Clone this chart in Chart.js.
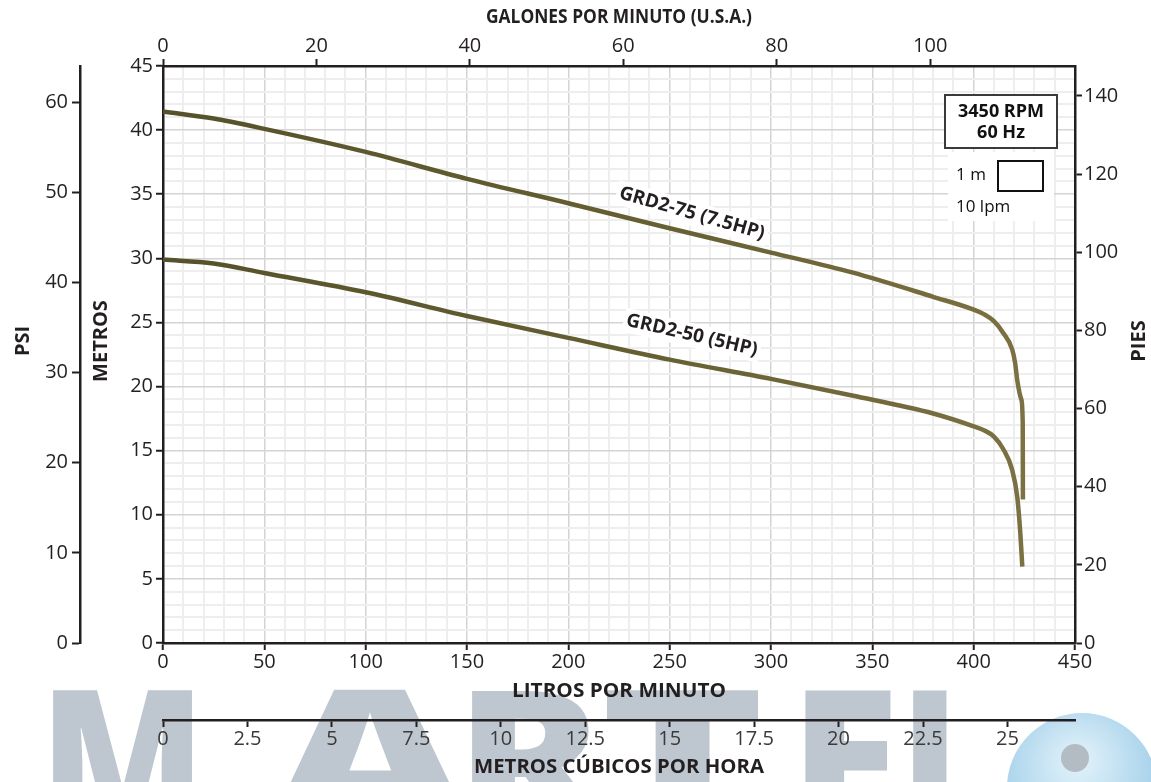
<!DOCTYPE html>
<html><head><meta charset="utf-8">
<script src="https://cdn.jsdelivr.net/npm/chart.js@4.4.1/dist/chart.umd.min.js"></script>
<style>html,body{margin:0;padding:0;background:#fff;overflow:hidden}#wrap{width:1151px;height:782px;position:relative}</style>
</head><body><div id="wrap"><canvas id="c" width="1151" height="782"></canvas></div>
<script>
// ---- data ----
const seriesNames = ['GRD2-75 (7.5HP)', 'GRD2-50 (5HP)'];
const lpm75  = [0, 25, 50, 100, 150, 200, 250, 300, 340, 380, 400, 405, 410, 414.5, 419, 420.5, 421.5, 423.5, 424.2, 424.3];
const head75 = [41.45, 40.9, 40.1, 38.3, 36.2, 34.3, 32.35, 30.45, 28.9, 27.0, 26.0, 25.65, 25.1, 24.2, 22.9, 21.8, 20.5, 19.0, 17.2, 11.2];
const lpm50  = [0, 25, 50, 100, 150, 200, 250, 300, 340, 380, 400, 405, 410, 414.5, 419, 421.5, 423, 424];
const head50 = [29.9, 29.6, 28.85, 27.35, 25.5, 23.8, 22.1, 20.6, 19.3, 17.9, 16.9, 16.6, 16.1, 15.15, 13.5, 11.4, 8.6, 5.95];
const infoLines = ['3450 RPM', '60 Hz'];
const gridLegend = ['1 m', '10 lpm'];
const titleTop = 'GALONES POR MINUTO (U.S.A.)';
const titleBottom = 'LITROS POR MINUTO';
const titleM3h = 'METROS CÚBICOS POR HORA';
const titlePsi = 'PSI';
const titleMetros = 'METROS';
const titlePies = 'PIES';
const watermarkText = 'MARTEL';
// axis ranges and steps
const lpmMax = 450, metrosMax = 45;
const LPM_PER_GPM = 3.78541, M_PER_FT = 0.3048, M_PER_PSI = 0.70307, LPM_PER_M3H = 1000/60;
const gpmStep = 20, piesStep = 20, psiStep = 10, m3hStep = 2.5, lpmMinor = 10, lpmMajor = 50, mMinor = 1, mMajor = 5;

const FONT = "'Open Sans', 'DejaVu Sans', sans-serif";
const DARK = '#231f20';
Chart.defaults.font.family = FONT;
Chart.defaults.font.size = 20;
Chart.defaults.color = DARK;
const TICKFONT = { family: FONT, size: 20 };

const isMul = (v, s) => Math.abs(v / s - Math.round(v / s)) < 1e-6;

function fitText(ctx, t, x, y, font, targetW, rot) {
  ctx.save();
  ctx.font = font;
  const w = ctx.measureText(t).width;
  ctx.translate(x, y);
  if (rot) ctx.rotate(rot);
  ctx.scale(targetW / w, 1);
  ctx.fillText(t, 0, 0);
  ctx.restore();
}

const deco = {
  id: 'deco',
  beforeDraw(chart) {
    const ctx = chart.ctx;
    ctx.save();
    ctx.fillStyle = '#ffffff';
    ctx.fillRect(0, 0, chart.width, chart.height);
    // watermark
    ctx.fillStyle = '#bec7cf';
    ctx.font = "800 190px " + FONT;
    ctx.textBaseline = 'alphabetic';
    ctx.textAlign = 'left';
    const letters = [[40, 165], [270, 200], [455, 150], [600, 165], [790, 110], [900, 100]];
    letters.forEach(([x, w], i) => {
      const ch = watermarkText[i];
      const mw = ctx.measureText(ch).width;
      ctx.save();
      ctx.translate(x, 826);
      ctx.scale(w / mw, 1);
      ctx.fillText(ch, 0, 0);
      ctx.restore();
    });
    // logo circle
    const g = ctx.createRadialGradient(1078, 760, 10, 1078, 770, 80);
    g.addColorStop(0, '#dceff9');
    g.addColorStop(1, '#a6d1ea');
    ctx.fillStyle = g;
    ctx.beginPath(); ctx.arc(1082, 788, 75, 0, Math.PI * 2); ctx.fill();
    ctx.fillStyle = '#b3bcc3';
    ctx.beginPath(); ctx.arc(1075, 758, 14, 0, Math.PI * 2); ctx.fill();
    ctx.restore();
  },
  afterDraw(chart) {
    const ctx = chart.ctx, ca = chart.chartArea;
    const xs = chart.scales.x, ys = chart.scales.y;
    const cx = (ca.left + ca.right) / 2;
    ctx.save();
    ctx.fillStyle = DARK;
    ctx.textAlign = 'center';
    ctx.textBaseline = 'middle';
    fitText(ctx, titleTop, cx, 17, "bold 20px " + FONT, 266);
    fitText(ctx, titleBottom, cx, 691, "bold 20px " + FONT, 214);
    fitText(ctx, titleM3h, cx, 767, "bold 20px " + FONT, 290);
    ctx.font = "bold 20px " + FONT;
    const vt = (t, x) => { ctx.save(); ctx.translate(x, 341); ctx.rotate(-Math.PI / 2); ctx.fillText(t, 0, 0); ctx.restore(); };
    vt(titlePsi, 23); vt(titleMetros, 101); vt(titlePies, 1139);

    // info box
    const bx = ca.right - 130, by = ca.top + 29;
    ctx.fillStyle = '#fff';
    ctx.fillRect(bx + 3, by + 57, 106, 69);
    ctx.fillRect(bx, by, 112, 53);
    ctx.strokeStyle = '#3a3a3a'; ctx.lineWidth = 2;
    ctx.strokeRect(bx, by, 112, 53);
    ctx.fillStyle = '#111';
    ctx.font = "bold 18px " + FONT;
    ctx.fillText(infoLines[0], bx + 56, by + 17);
    ctx.fillText(infoLines[1], bx + 56, by + 38);
    ctx.font = "17px " + FONT;
    ctx.textAlign = 'left';
    ctx.fillText(gridLegend[0], bx + 11, by + 80);
    ctx.fillText(gridLegend[1], bx + 11, by + 112);
    ctx.strokeStyle = '#111'; ctx.lineWidth = 2;
    ctx.strokeRect(bx + 53, by + 66, 45, 30);

    // curve labels
    ctx.font = "bold 19px " + FONT;
    ctx.textAlign = 'center';
    const lab = (t, lx, ly, deg) => {
      const px = xs.getPixelForValue(lx), py = ys.getPixelForValue(ly);
      ctx.save(); ctx.translate(px, py); ctx.rotate(deg * Math.PI / 180);
      const w = ctx.measureText(t).width;
      ctx.fillStyle = '#fff'; ctx.fillRect(-w / 2 - 3, -12, w + 6, 24);
      ctx.fillStyle = DARK; ctx.fillText(t, 0, 0);
      ctx.restore();
    };
    lab(seriesNames[0], 261, 33.5, 16);
    lab(seriesNames[1], 261, 24.0, 13);
    ctx.restore();
  }
};

const grad = (c) => {
  const ca = c.chart.chartArea;
  if (!ca) return '#65602f';
  const g = c.chart.ctx.createLinearGradient(ca.left, 0, ca.right, 0);
  g.addColorStop(0, '#55512a');
  g.addColorStop(0.5, '#645e31');
  g.addColorStop(1, '#7e7344');
  return g;
};

const mk = (xsArr, ysArr) => xsArr.map((x, i) => ({ x, y: ysArr[i] }));
const border = { display: true, color: DARK, width: 2.5 };
const fixW = (w) => (s) => { s.width = w; };
const fixH = (h) => (s) => { s.height = h; };

new Chart(document.getElementById('c'), {
  type: 'line',
  data: {
    datasets: [
      { label: seriesNames[0], data: mk(lpm75, head75), xAxisID: 'x', yAxisID: 'y', borderColor: grad, borderWidth: 4.5, pointRadius: 0, cubicInterpolationMode: 'monotone', fill: false },
      { label: seriesNames[1], data: mk(lpm50, head50), xAxisID: 'x', yAxisID: 'y', borderColor: grad, borderWidth: 4.5, pointRadius: 0, cubicInterpolationMode: 'monotone', fill: false }
    ]
  },
  options: {
    responsive: false,
    animation: false,
    events: [],
    layout: { padding: 0 },
    plugins: { legend: { display: false }, tooltip: { enabled: false } },
    scales: {
      x: {
        type: 'linear', position: 'bottom', weight: 0, min: 0, max: lpmMax,
        afterFit: fixH(77), border,
        grid: {
          color: (c) => isMul(c.tick.value, lpmMajor) ? '#d4d4d4' : '#eeeeee',
          lineWidth: (c) => isMul(c.tick.value, lpmMajor) ? 1.5 : 2,
          tickColor: (c) => isMul(c.tick.value, lpmMajor) ? DARK : 'rgba(0,0,0,0)',
          tickLength: 7, tickWidth: 2
        },
        ticks: { font: TICKFONT, stepSize: lpmMinor, autoSkip: false, maxRotation: 0, padding: 0, includeBounds: false,
          callback: (v) => isMul(v, lpmMajor) ? String(v) : '' }
      },
      m3h: {
        type: 'linear', position: 'bottom', weight: 1, min: 0, max: lpmMax / LPM_PER_M3H,
        afterFit: fixH(62), border,
        grid: { drawOnChartArea: false, tickColor: DARK, tickLength: 7, tickWidth: 2 },
        ticks: { font: TICKFONT, stepSize: m3hStep, autoSkip: false, maxRotation: 0, padding: 0, includeBounds: false, color: '#3a3a3a',
          callback: (v) => String(v) }
      },
      x2: {
        type: 'linear', position: 'top', min: 0, max: lpmMax / LPM_PER_GPM,
        afterFit: fixH(66), border,
        grid: { drawOnChartArea: false, tickColor: DARK, tickLength: 7, tickWidth: 2 },
        ticks: { font: TICKFONT, stepSize: gpmStep, autoSkip: false, maxRotation: 0, padding: 1, includeBounds: false,
          callback: (v) => String(v) }
      },
      y: {
        type: 'linear', position: 'left', weight: 0, min: 0, max: metrosMax,
        afterFit: fixW(83), border,
        grid: {
          color: (c) => isMul(c.tick.value, mMajor) ? '#d4d4d4' : '#eeeeee',
          lineWidth: (c) => isMul(c.tick.value, mMajor) ? 1.5 : 2,
          tickColor: (c) => isMul(c.tick.value, mMajor) ? DARK : 'rgba(0,0,0,0)',
          tickLength: 7, tickWidth: 2
        },
        ticks: { font: TICKFONT, stepSize: mMinor, autoSkip: false, padding: 3, includeBounds: false,
          callback: (v) => isMul(v, mMajor) ? String(v) : '' }
      },
      psi: {
        type: 'linear', position: 'left', weight: 1, min: 0, max: metrosMax / M_PER_PSI,
        afterFit: fixW(80), border,
        grid: { drawOnChartArea: false, tickColor: DARK, tickLength: 8, tickWidth: 2 },
        ticks: { font: TICKFONT, stepSize: psiStep, autoSkip: false, padding: 4, includeBounds: false,
          callback: (v) => String(v) }
      },
      y2: {
        type: 'linear', position: 'right', min: 0, max: metrosMax / M_PER_FT,
        afterFit: fixW(76), border,
        grid: { drawOnChartArea: false, tickColor: DARK, tickLength: 7, tickWidth: 2 },
        ticks: { font: TICKFONT, stepSize: piesStep, autoSkip: false, padding: 2, includeBounds: false,
          callback: (v) => String(v) }
      }
    }
  },
  plugins: [deco]
});
</script>
</body></html>
